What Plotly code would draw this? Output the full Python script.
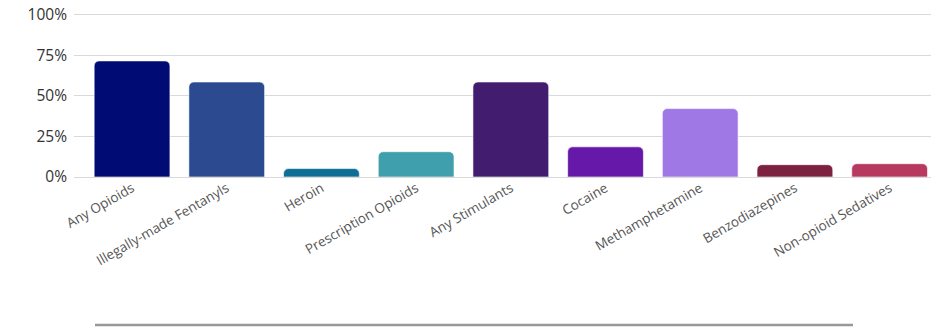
import plotly.graph_objects as go

categories = ["Any Opioids", "Illegally-made Fentanyls", "Heroin", "Prescription Opioids",
              "Any Stimulants", "Cocaine", "Methamphetamine", "Benzodiazepines",
              "Non-opioid Sedatives"]
values = [71.6, 58.6, 5.2, 15.6, 58.6, 18.6, 42.2, 7.6, 8.2]
colors = ["#000C73", "#2B4A8F", "#0E6E95", "#409FAC", "#421C6E",
          "#6619A8", "#A078E6", "#7C2240", "#B8395F"]
ytick_vals = [0, 25, 50, 75, 100]
ytick_text = ["0%", "25%", "50%", "75%", "100%"]

fig = go.Figure(go.Bar(
    x=categories, y=values,
    marker=dict(color=colors, line=dict(color="rgba(255,255,255,0.6)", width=1)),
    width=0.8,
))

fig.update_layout(
    width=931, height=329,
    margin=dict(l=74, r=0, t=10, b=152, autoexpand=False),
    paper_bgcolor="white", plot_bgcolor="white",
    font=dict(family="Open Sans", color="#333"),
    barcornerradius=5,
    showlegend=False,
    xaxis=dict(range=[-0.613, 8.437], tickangle=-30, showgrid=False, showline=False,
               ticks="", tickfont=dict(size=13.5, color="#555"), automargin=False),
    yaxis=dict(range=[0, 103], tickvals=ytick_vals, ticktext=ytick_text,
               showgrid=True, gridcolor="#d9d9d9", gridwidth=1,
               zeroline=True, zerolinecolor="#d9d9d9", zerolinewidth=1,
               tickfont=dict(size=15.5, color="#333"), ticklabelstandoff=6,
               ticklabeloverflow="allow", automargin=False),
    shapes=[dict(type="line", xref="paper", yref="paper",
                 x0=0.0245, x1=0.909, y0=-0.886, y1=-0.886,
                 line=dict(color="#999", width=2.5))],
)

fig.write_html("out.html",
               config={"displayModeBar": False},
               post_script="document.body.style.margin='0';document.body.style.overflow='hidden';")
